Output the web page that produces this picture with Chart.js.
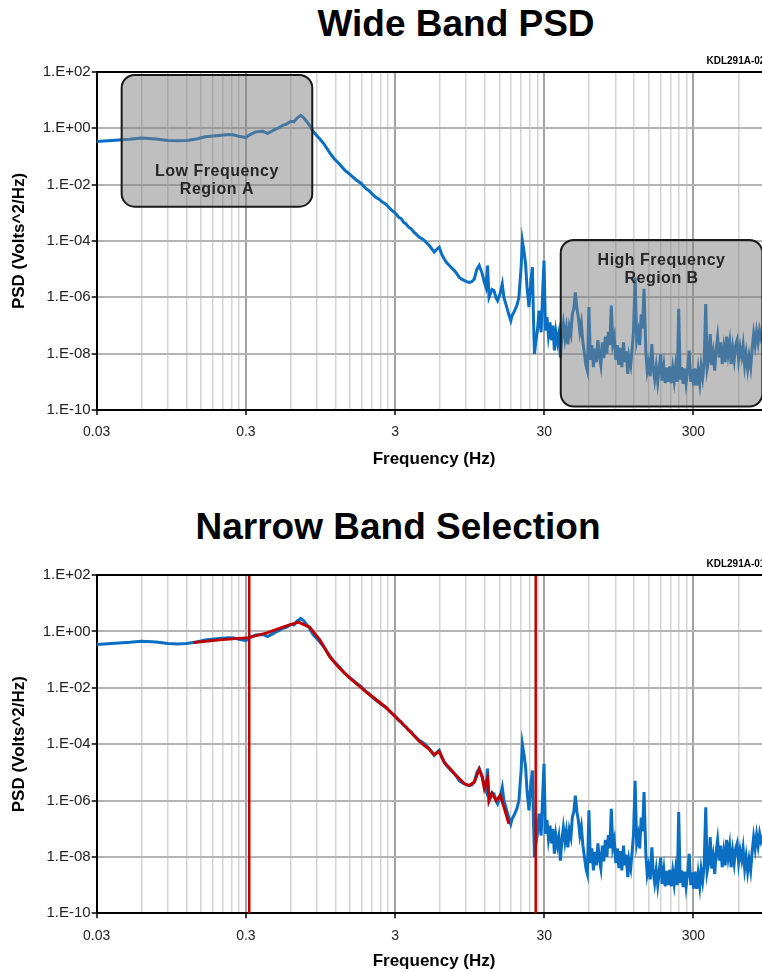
<!DOCTYPE html>
<html>
<head>
<meta charset="utf-8">
<script src="https://cdn.jsdelivr.net/npm/chart.js@4.4.1/dist/chart.umd.min.js"></script>
<style>
  html, body { margin: 0; padding: 0; background: #fff; overflow: hidden; }
  #page { position: relative; width: 762px; height: 972px; overflow: hidden; }
  .title {
    position: absolute; transform: translateX(-50%); white-space: nowrap;
    font-family: "Liberation Sans", Arial, sans-serif; font-weight: bold;
    font-size: 37px; line-height: 1; color: #000;
  }
  canvas { position: absolute; left: 0; }
</style>
</head>
<body>
<div id="page">
  <div class="title" style="left:456px; top:5px;">Wide Band PSD</div>
  <canvas id="wideChart" width="790" height="480" style="top:0;"></canvas>
  <div class="title" style="left:398px; top:508px;">Narrow Band Selection</div>
  <canvas id="narrowChart" width="790" height="469" style="top:503px;"></canvas>
</div>
<script>
// ---- datos ----
const freqHz = [
  0.03, 0.04, 0.05, 0.06, 0.075, 0.09, 0.105, 0.12, 0.14, 0.16,
  0.19, 0.23, 0.25, 0.27, 0.3, 0.32, 0.35, 0.39, 0.42, 0.45,
  0.47, 0.5, 0.53, 0.56, 0.6, 0.63, 0.66, 0.7, 0.73, 0.77,
  0.8, 0.85, 0.94, 1.0, 1.09, 1.17, 1.27, 1.38, 1.48, 1.56,
  1.64, 1.78, 1.92, 2.0, 2.08, 2.24, 2.33, 2.42, 2.61, 2.71,
  2.82, 2.93, 3.05, 3.17, 3.3, 3.43, 3.56, 3.7, 3.85, 4.0,
  4.14, 4.37, 4.55, 4.71, 4.9, 5.09, 5.3, 5.49, 5.7, 5.93,
  6.15, 6.41, 6.65, 6.92, 7.2, 7.48, 7.8, 8.08, 8.4, 8.71,
  9.05, 9.42, 9.8, 10.2, 10.6, 11.0, 11.5, 11.9, 12.2, 12.5,
  12.8, 13.4, 13.8, 14.3, 14.6, 15.2, 15.7, 16.1, 16.6, 17.2,
  17.9, 18.3, 18.8, 19.7, 20.3, 21.0, 21.4, 22.0, 22.5, 23.0,
  23.7, 24.4, 25.0, 25.4, 25.8, 26.4, 27.0, 27.7, 28.6, 29.2,
  29.9, 30.6, 31.3, 32.0, 32.8, 33.5, 34.3, 35.1, 35.9, 36.8,
  37.6, 38.5, 39.4, 40.3, 41.3, 42.2, 43.2, 44.2, 45.3, 46.3,
  47.4, 48.5, 49.7, 50.8, 52.0, 53.2, 54.5, 55.8, 57.1, 58.4,
  59.8, 61.2, 62.6, 64.1, 65.6, 67.1, 68.7, 70.3, 71.9, 73.6,
  75.3, 77.1, 78.9, 80.7, 82.6, 84.5, 86.5, 88.5, 90.6, 92.7,
  94.9, 97.1, 99.4, 102, 104, 106, 109, 111, 114, 117,
  119, 122, 125, 128, 131, 134, 137, 140, 144, 147,
  150, 154, 158, 161, 165, 169, 173, 177, 181, 185,
  190, 194, 199, 203, 208, 213, 218, 223, 228, 234,
  239, 245, 250, 256, 262, 268, 275, 281, 288, 294,
  301, 308, 316, 323, 331, 338, 346, 354, 363, 371,
  380, 389, 398, 407, 417, 426, 436, 447, 457, 468,
  479, 490, 501, 513, 525, 537, 550, 563, 576, 589,
  603, 617, 632, 646, 662, 677, 693, 709, 726, 743,
  760, 778, 796, 815, 834, 853, 873, 894, 915, 936,
  958, 980, 1000
];
const psdWide = [
  0.34, 0.38, 0.41, 0.45, 0.42, 0.37, 0.36, 0.37, 0.42, 0.5,
  0.55, 0.6, 0.58, 0.52, 0.47, 0.6, 0.75, 0.78, 0.66, 0.8,
  0.92, 1.05, 1.28, 1.4, 1.77, 1.7, 2.3, 2.9, 2.4, 1.7,
  1.3, 0.75, 0.42, 0.28, 0.14, 0.085, 0.054, 0.033, 0.024, 0.019,
  0.015, 0.011, 0.0071, 0.0062, 0.005, 0.0035, 0.0031, 0.0026, 0.002, 0.0016,
  0.0013, 0.0011, 9.1e-4, 7.0e-4, 6.2e-4, 4.6e-4, 4.0e-4, 3.1e-4, 2.7e-4, 2.1e-4,
  1.78e-4, 1.35e-4, 1.2e-4, 1.05e-4, 8.5e-5, 6.9e-5, 5.2e-5, 4.0e-5, 5.0e-5, 6.0e-5,
  3.5e-5, 2.3e-5, 1.7e-5, 1.38e-5, 1.1e-5, 9.1e-6, 6.8e-6, 5.1e-6, 4.4e-6, 4.0e-6,
  3.6e-6, 3.4e-6, 3.6e-6, 4.5e-6, 9.8e-6, 1.35e-5, 7.1e-6, 3.4e-6, 2.3e-6, 1.35e-5,
  1.0e-6, 1.9e-6, 1.74e-6, 9.3e-7, 7.6e-7, 1.38e-6, 2.95e-6, 1.0e-6, 5.75e-7, 2.95e-7,
  1.48e-7, 2.3e-7, 2.95e-7, 5.25e-7, 1.0e-6, 1.17e-5, 1.02e-4, 4.0e-5, 1.5e-5, 2.3e-6,
  4.5e-7, 3.9e-6, 1.17e-5, 1.95e-7, 9.8e-9, 2.95e-8, 6.6e-8, 3.4e-7, 5.75e-8, 1.0e-6,
  2.0e-5, 6.6e-8, 2.0e-7, 4.5e-8, 1.3e-7, 3.0e-8, 1.0e-7, 1.3e-8, 6.0e-8, 2.5e-8,
  5.0e-8, 7.4e-9, 4.0e-8, 1.1e-7, 3.5e-8, 8.0e-8, 2.2e-8, 9.0e-8, 5.0e-8, 2.6e-7,
  4.0e-7, 1.5e-6, 4.0e-7, 2.0e-7, 6.0e-8, 1.2e-7, 2.5e-8, 1.0e-8, 4.0e-9, 2.5e-9,
  4.5e-7, 6.0e-9, 2.0e-8, 3.3e-9, 1.5e-8, 5.0e-9, 3.0e-8, 8.0e-9, 3.9e-9, 2.5e-8,
  7.0e-9, 4.0e-8, 1.0e-8, 6.0e-8, 2.0e-8, 5.1e-7, 2.2e-8, 4.0e-8, 6.0e-9, 2.0e-8,
  4.0e-9, 1.6e-8, 3.3e-9, 2.5e-8, 5.0e-9, 1.2e-8, 1.9e-9, 8.0e-9, 3.9e-9, 2.0e-8,
  6.0e-8, 5.0e-6, 3.0e-8, 6.0e-8, 2.0e-8, 2.5e-7, 8.0e-8, 2.0e-6, 1.2e-8, 2.5e-9,
  4.6e-9, 1.6e-9, 2.2e-8, 3.3e-9, 1.2e-9, 3.5e-9, 1.0e-9, 3.0e-9, 9.5e-9, 1.1e-9,
  3.5e-9, 9e-10, 3.2e-9, 1.0e-9, 3.5e-9, 9e-10, 3.0e-9, 1.1e-9, 3.5e-9, 1.0e-9,
  3.9e-7, 1.2e-9, 3.3e-9, 8.5e-10, 3.0e-9, 9e-10, 2.8e-9, 1.29e-8, 1.0e-9, 2.8e-9,
  7.5e-10, 3.0e-9, 7.4e-10, 2.6e-9, 9e-10, 3.5e-9, 1.4e-9, 4.5e-9, 5.75e-7, 3.0e-9,
  6.0e-9, 5.0e-8, 3.9e-9, 1.0e-8, 2.5e-9, 1.5e-8, 4.0e-8, 7.4e-9, 2.5e-8, 4.3e-9,
  1.5e-8, 5.0e-9, 4.0e-8, 1.0e-8, 2.5e-8, 4.3e-9, 1.6e-8, 6.0e-9, 2.0e-8, 3.0e-8,
  6.3e-9, 1.7e-8, 8.0e-9, 2.0e-8, 3.9e-9, 1.0e-8, 3.0e-9, 8.0e-9, 3.3e-9, 1.5e-8,
  5.0e-8, 2.0e-8, 6.0e-8, 2.5e-8, 6.6e-8, 3.5e-8, 5.0e-8, 2.5e-8, 4.5e-8, 3.0e-8,
  5.0e-8, 3.0e-8, 4.0e-8
];

// curva roja de ajuste (banda estrecha)
const fitFreqHz = [
  0.134, 0.2, 0.31, 0.41, 0.55, 0.675, 0.8, 0.94, 1.09, 1.27,
  1.48, 1.92, 2.61, 3.56, 4.37, 5.09, 5.49, 5.93, 6.41, 7.48,
  8.71, 9.42, 10.2, 11.0, 11.5, 11.9, 12.5, 12.8, 13.4, 14.3,
  15.2, 16.1, 17.4
];
const fitPsd = [
  0.4, 0.5, 0.6, 0.87, 1.5, 2.14, 1.42, 0.5, 0.13, 0.05,
  0.023, 0.0072, 0.002, 4.0e-4, 1.25e-4, 6.5e-5, 4.2e-5, 5.5e-5, 2.3e-5, 9.1e-6,
  4.0e-6, 3.4e-6, 4.5e-6, 1.3e-5, 7e-6, 2.7e-6, 6e-6, 1.0e-6, 1.8e-6, 1.0e-6,
  1.5e-6, 6e-7, 1.5e-7
];
const cutoffHz = [0.316, 26.3];

// ejes
const xMin = 0.03, xMax = 1000;
const xMajorTicks = [0.03, 0.3, 3, 30, 300];
const xTickLabels = ['0.03', '0.3', '3', '30', '300'];
const yTicks = [1e-10, 1e-8, 1e-6, 1e-4, 1e-2, 1e0, 1e2];
const yTickLabels = ['1.E-10', '1.E-08', '1.E-06', '1.E-04', '1.E-02', '1.E+00', '1.E+02'];

const FONT = '"Liberation Sans", Arial, sans-serif';
const BLUE = '#0a6fc2';
const RED = '#c00000';

// ticks: principales + 2x..9x de cada década
function buildXTicks() {
  const ticks = [];
  xMajorTicks.forEach(m => {
    ticks.push({ value: m, major: true });
    for (let k = 2; k <= 9; k++) {
      if (m * k < xMax) ticks.push({ value: m * k, major: false });
    }
  });
  return ticks;
}

function toPoints(xs, ys) {
  return xs.map((x, i) => ({ x: x, y: ys[i] }));
}

// marco superior, etiquetas y cajas de región
const decorPlugin = {
  id: 'decor',
  afterDatasetsDraw(chart, args, opts) {
    const ctx = chart.ctx;
    const area = chart.chartArea;
    const xs = chart.scales.x, ys = chart.scales.y;
    ctx.save();

    // linea superior del marco
    ctx.strokeStyle = '#000';
    ctx.lineWidth = 2;
    ctx.beginPath();
    ctx.moveTo(area.left, area.top);
    ctx.lineTo(area.right, area.top);
    ctx.stroke();

    (opts.boxes || []).forEach(b => {
      const x0 = xs.getPixelForValue(b.xMin), x1 = xs.getPixelForValue(b.xMax);
      const y0 = ys.getPixelForValue(b.yMax), y1 = ys.getPixelForValue(b.yMin);
      const r = 13;
      ctx.beginPath();
      ctx.moveTo(x0 + r, y0);
      ctx.lineTo(x1 - r, y0);
      ctx.arcTo(x1, y0, x1, y0 + r, r);
      ctx.lineTo(x1, y1 - r);
      ctx.arcTo(x1, y1, x1 - r, y1, r);
      ctx.lineTo(x0 + r, y1);
      ctx.arcTo(x0, y1, x0, y1 - r, r);
      ctx.lineTo(x0, y0 + r);
      ctx.arcTo(x0, y0, x0 + r, y0, r);
      ctx.closePath();
      ctx.fillStyle = 'rgba(128,128,128,0.5)';
      ctx.fill();
      ctx.strokeStyle = '#1a1a1a';
      ctx.lineWidth = 2;
      ctx.stroke();

      ctx.fillStyle = '#262626';
      ctx.font = 'bold 16px ' + FONT;
      ctx.letterSpacing = '0.5px';
      ctx.textAlign = 'center';
      ctx.textBaseline = 'middle';
      b.lines.forEach((t, i) => {
        ctx.fillText(t, (x0 + x1) / 2, y0 + b.textTop + i * 18);
      });
      ctx.letterSpacing = '0px';
    });

    if (opts.tag) {
      ctx.fillStyle = '#000';
      ctx.font = 'bold 10px ' + FONT;
      ctx.textAlign = 'right';
      ctx.textBaseline = 'alphabetic';
      ctx.fillText(opts.tag, area.right - 6, area.top - 8);
    }
    ctx.restore();
  }
};

function makeChart(canvasId, datasets, decor, xAxisHeight, xTitlePad) {
  const ctx = document.getElementById(canvasId).getContext('2d');
  return new Chart(ctx, {
    type: 'line',
    data: { datasets: datasets },
    options: {
      responsive: false,
      animation: false,
      devicePixelRatio: 1,
      layout: { padding: { top: 72, left: 0, right: 18.6, bottom: 0 } },
      plugins: {
        legend: { display: false },
        tooltip: { enabled: false },
        decor: decor
      },
      elements: { point: { radius: 0 }, line: { tension: 0 } },
      scales: {
        x: {
          type: 'logarithmic',
          min: xMin,
          max: xMax,
          afterBuildTicks: scale => { scale.ticks = buildXTicks(); },
          afterFit: scale => { scale.height = xAxisHeight; },
          ticks: {
            autoSkip: false,
            maxRotation: 0,
            padding: 9,
            color: '#222',
            font: { family: FONT, size: 14 },
            callback: value => {
              const i = xMajorTicks.indexOf(value);
              return i >= 0 ? xTickLabels[i] : '';
            }
          },
          grid: {
            color: c => (c.tick && c.tick.major) ? '#a3a3a3' : '#d3d3d3',
            lineWidth: c => (c.tick && c.tick.major) ? 2 : 1.5,
            tickColor: c => (c.tick && c.tick.major) ? '#000' : 'rgba(0,0,0,0)',
            tickLength: 5,
            tickWidth: 1.5
          },
          border: { color: '#000', width: 2 },
          title: {
            display: true,
            text: 'Frequency (Hz)',
            color: '#000',
            font: { family: FONT, size: 17, weight: 'bold' },
            padding: { top: 0, bottom: xTitlePad }
          }
        },
        y: {
          type: 'logarithmic',
          min: 1e-10,
          max: 1e2,
          afterBuildTicks: scale => { scale.ticks = yTicks.map(v => ({ value: v })); },
          afterFit: scale => { scale.width = 96.7; },
          ticks: {
            padding: 1,
            color: '#222',
            font: { family: FONT, size: 15 },
            callback: (value, index) => yTickLabels[index]
          },
          grid: {
            color: '#b3b3b3',
            lineWidth: 2,
            tickColor: '#000',
            tickLength: 5,
            tickWidth: 1.5
          },
          border: { color: '#000', width: 2 },
          title: {
            display: true,
            text: 'PSD (Volts^2/Hz)',
            color: '#000',
            font: { family: FONT, size: 17, weight: 'bold' },
            padding: { top: 8.8, bottom: 0 }
          }
        }
      }
    },
    plugins: [decorPlugin]
  });
}

const wideLine = {
  data: toPoints(freqHz, psdWide),
  borderColor: BLUE, borderWidth: 3, fill: false, order: 2
};

makeChart('wideChart', [wideLine], {
  tag: 'KDL291A-02',
  boxes: [
    { xMin: 0.0441, xMax: 0.836, yMin: 1.65e-3, yMax: 78.3, textTop: 97, lines: ['Low Frequency', 'Region A'] },
    { xMin: 38.7, xMax: 870, yMin: 1.32e-10, yMax: 1.09e-4, textTop: 21, lines: ['High Frequency', 'Region B'] }
  ]
}, 70, 10.8);

const narrowSets = cutoffHz.map(f => ({
  data: [{ x: f, y: 1e-10 }, { x: f, y: 1e2 }],
  borderColor: RED, borderWidth: 2.5, fill: false, order: 0
}));
narrowSets.push({
  data: toPoints(fitFreqHz, fitPsd),
  borderColor: RED, borderWidth: 3, fill: false, order: 1
});
narrowSets.push(Object.assign({}, wideLine, { data: toPoints(freqHz, psdWide) }));

makeChart('narrowChart', narrowSets, { tag: 'KDL291A-01', boxes: [] }, 58.7, 0);
</script>
</body>
</html>
